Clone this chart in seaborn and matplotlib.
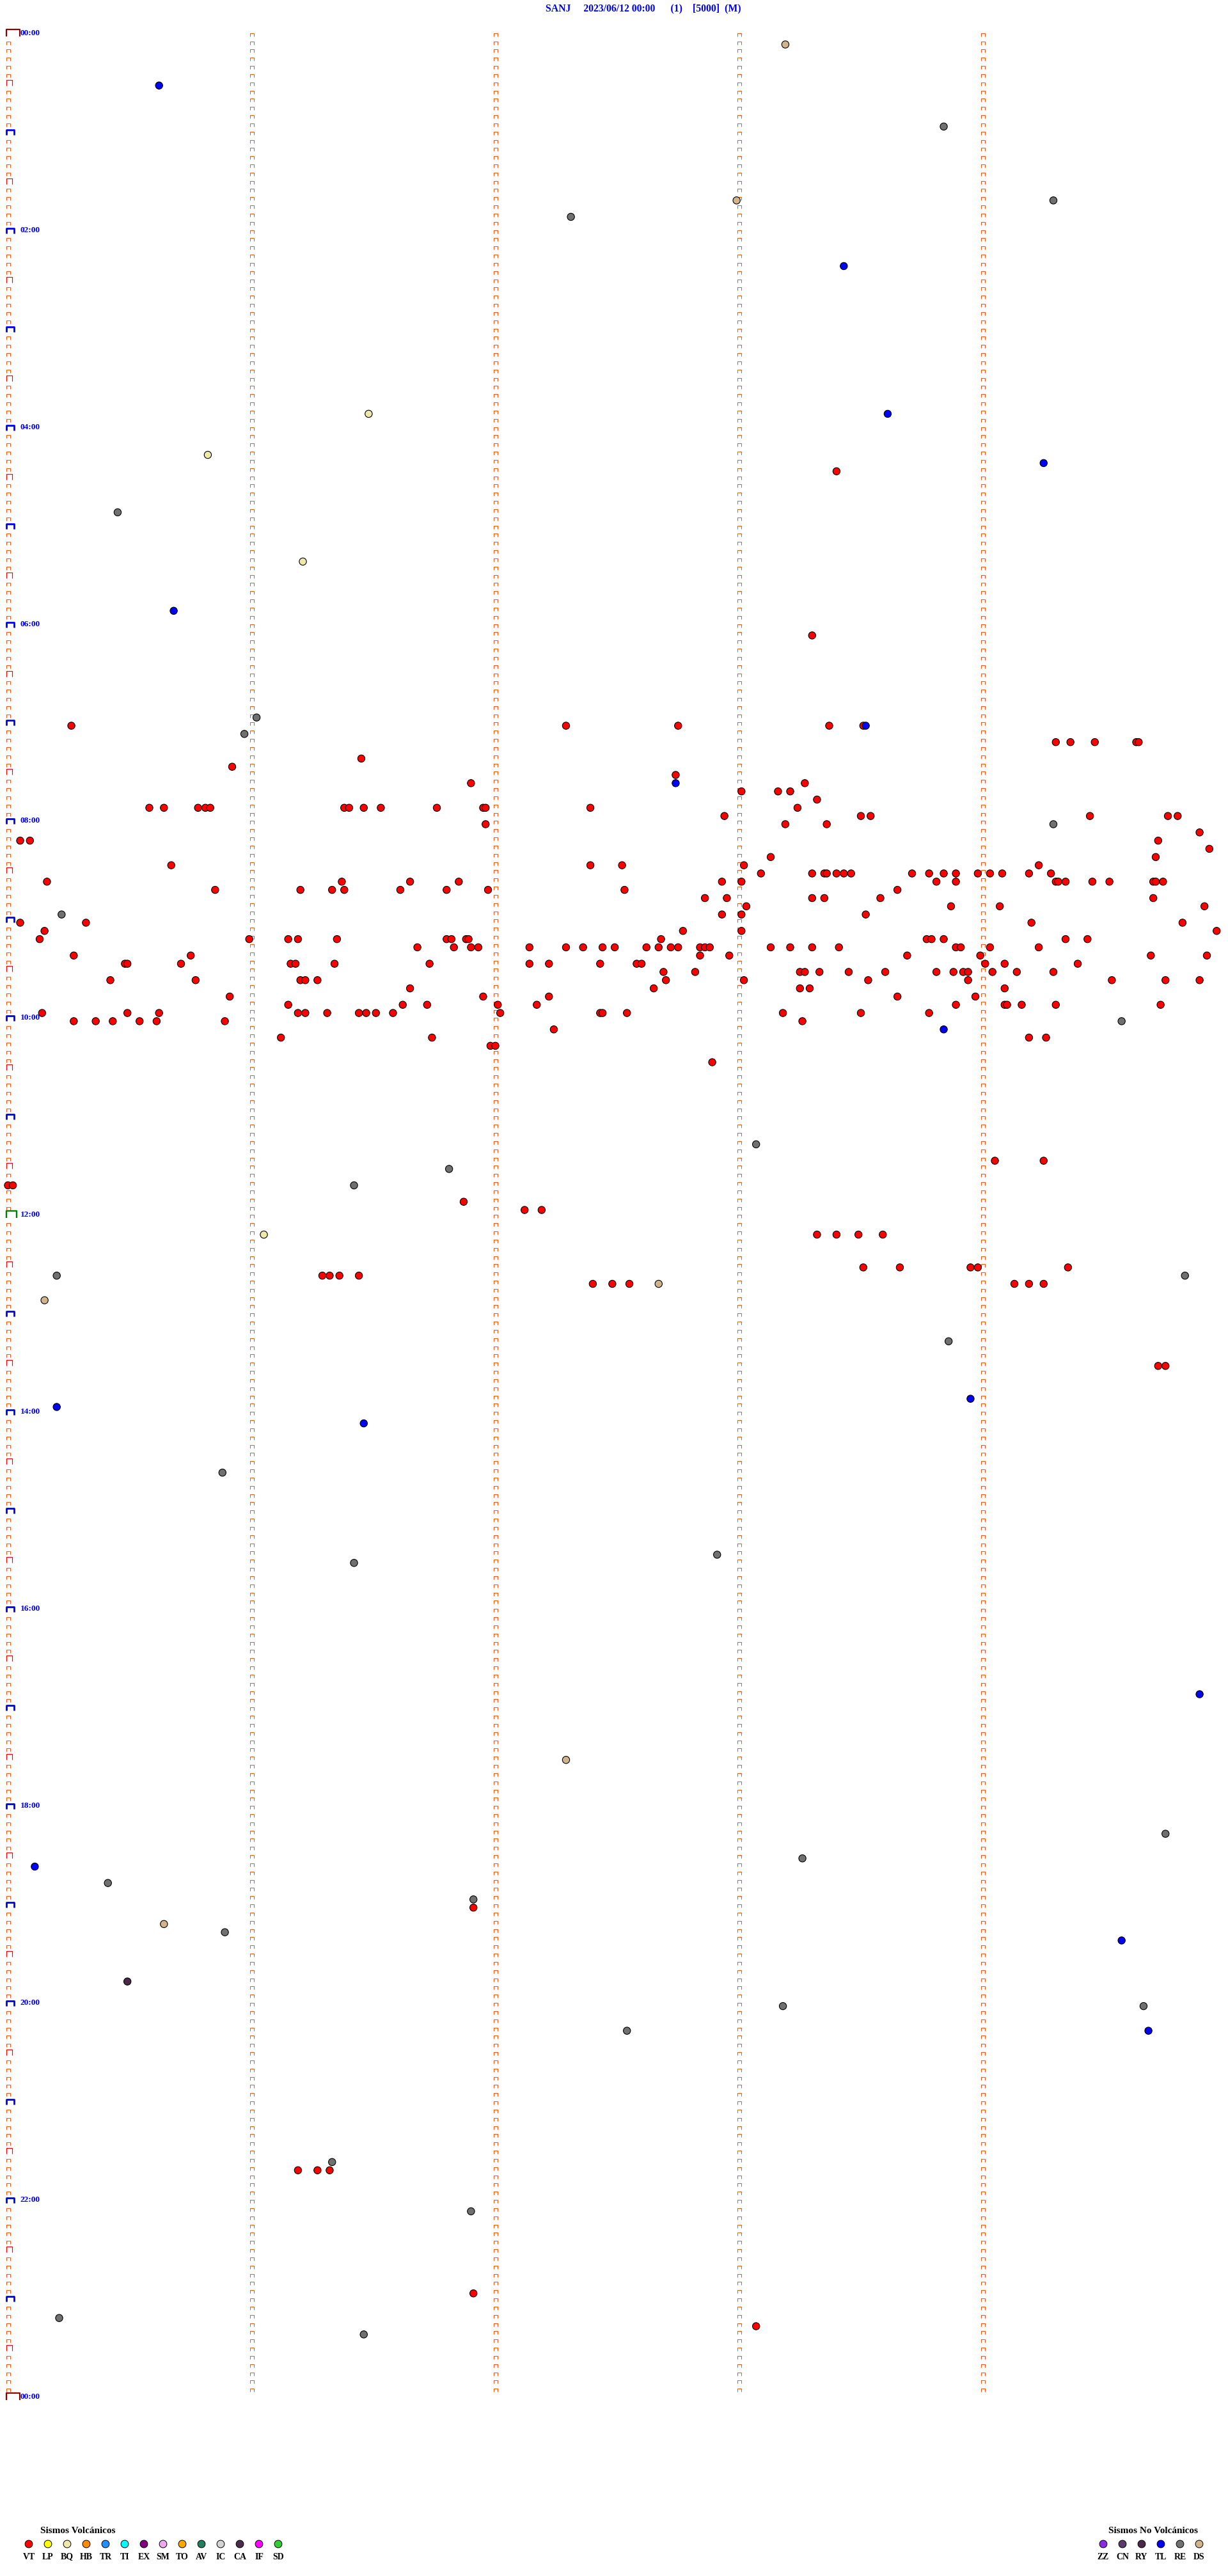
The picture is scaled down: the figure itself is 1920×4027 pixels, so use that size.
import numpy as np
import pandas as pd
import seaborn as sns
import matplotlib.pyplot as plt
from matplotlib.path import Path

# --- header -----------------------------------------------------------------
TITLE = "SANJ     2023/06/12 00:00      (1)    [5000]  (M)"

# helicorder layout: 288 rows of 5 minutes, each row 5 one-minute columns
ROW_MINUTES = 5
N_ROWS = 288
HOUR_LABELS = ["00:00", "02:00", "04:00", "06:00", "08:00", "10:00", "12:00",
               "14:00", "16:00", "18:00", "20:00", "22:00", "00:00"]

# --- legend categories --------------------------------------------------------
VOLC_CODES = ["VT", "LP", "BQ", "HB", "TR", "TI", "EX", "SM", "TO", "AV", "IC", "CA", "IF", "SD"]
VOLC_COLORS = ["#FF0000", "#FFFF00", "#EEE8AA", "#FF8C00", "#1E90FF", "#00FFFF", "#800080",
               "#EEA8EE", "#FFA500", "#1E7F5F", "#D3D3D3", "#4B2D4B", "#FF00FF", "#32CD32"]
NONVOLC_CODES = ["ZZ", "CN", "RY", "TL", "RE", "DS"]
NONVOLC_COLORS = ["#8A2BE2", "#5A3A6A", "#4A2848", "#0000FF", "#707070", "#D2B48C"]

# --- events (minutes after 00:00) ---------------------------------------------
VT_MIN = [
    268.40, 368.30,
    420.26, 422.29, 422.75, 423.37, 423.51,
    434.30, 434.36, 434.46, 434.63, 434.64,
    441.45, 445.92, 452.74, 456.90, 458.27,
    463.01, 463.16, 463.21, 468.32,
    470.58, 470.64, 470.78, 470.81, 470.83, 471.38, 471.40, 471.46, 471.53, 471.76,
    471.95, 471.96, 472.39, 473.24,
    477.94, 478.50, 478.54, 479.44, 479.76, 479.80,
    481.96, 483.19, 483.36, 489.89,
    490.05, 490.09, 494.72, 499.93, 503.13, 504.71,
    505.67, 507.39, 507.52, 508.02, 509.23,
    513.09, 513.30, 513.35, 513.36, 513.40, 513.43, 513.46, 513.71, 513.78, 513.84,
    513.89, 513.98, 514.03, 514.08, 514.19, 514.28,
    515.16, 516.37, 516.65, 516.85, 517.93, 518.01, 518.81, 518.89, 519.30, 519.31,
    519.34, 519.45, 519.52, 519.70, 519.71, 519.74,
    520.85, 521.20, 521.33, 521.38, 521.61, 521.80, 521.97, 522.53, 523.65,
    527.86, 527.95, 528.30, 528.35, 528.58, 529.70,
    533.03, 533.87, 534.07, 534.91,
    537.93, 538.01, 538.52,
    540.05, 540.32, 544.20, 544.82,
    545.15, 547.77, 548.01, 549.96,
    550.13, 550.99, 551.15, 551.19, 551.35, 551.80, 551.82, 551.88, 551.89, 552.68,
    553.77, 553.79, 553.84, 554.34, 554.43,
    556.68, 556.83, 556.90, 556.93, 557.14, 557.29, 557.36, 557.44, 557.49, 557.62,
    557.67, 557.72, 557.75, 557.84, 557.86, 557.88, 558.13, 558.21, 558.30, 558.41,
    558.89, 558.91, 559.03, 559.23,
    560.27, 560.75, 562.84, 562.96, 563.69, 563.99, 564.69, 564.92,
    565.48, 565.49, 565.71, 566.16, 566.18, 566.34, 566.73, 567.14, 567.22, 567.43,
    567.58, 567.60, 569.01, 569.09, 569.39,
    572.69, 572.82, 573.25, 573.27, 573.33, 573.45, 573.60, 573.81, 573.88, 573.92,
    573.94, 574.04, 574.14, 574.29,
    575.42, 575.77, 576.20, 576.22, 576.27, 577.70, 578.02, 578.53, 578.94, 579.53,
    579.75, 579.89,
    581.65, 582.65, 583.25, 583.29, 584.09,
    585.91, 586.95, 587.22, 588.65, 588.97,
    591.15, 591.62, 591.72, 592.01, 592.17, 593.89, 594.09, 594.10, 594.16, 594.30, 594.73,
    595.14, 595.49, 595.62, 596.19, 596.22, 596.31, 596.44, 596.47, 596.51, 596.58,
    597.02, 597.43, 597.44, 597.54, 598.18, 598.50, 598.78,
    600.27, 600.36, 600.43, 600.54, 600.61, 600.89, 603.26,
    607.24, 611.12, 611.74, 614.19, 614.26, 616.98, 617.00,
    627.89, 689.05, 689.25, 700.00, 700.02, 711.87, 717.12, 717.19,
    733.32, 733.40, 733.49, 733.59,
    753.51, 753.66, 753.95, 753.98, 754.35,
    756.29, 756.32, 756.36, 756.44,
    762.40, 762.48, 762.55, 764.13, 764.19, 764.25,
    814.72, 814.75, 1141.91, 1301.19, 1301.27, 1301.32, 1376.91, 1398.07,
]
TL_MIN = [30.62, 143.43, 233.61, 264.25, 350.68, 423.52, 457.74, 608.84, 833.95,
          835.20, 846.46, 1014.89, 1115.11, 1164.57, 1219.68]
RE_MIN = [58.84, 104.29, 112.31, 290.45, 416.02, 425.97, 484.29, 535.22, 604.57,
          678.07, 691.81, 701.42, 755.20, 759.83, 798.86, 875.88, 927.91, 931.42,
          1099.75, 1113.26, 1125.41, 1136.91, 1155.89, 1203.18, 1204.66, 1217.54,
          1296.33, 1326.90, 1390.21, 1401.46]
DS_MIN = [8.19, 102.99, 762.67, 770.15, 1052.29, 1150.64]
BQ_MIN = [231.48, 255.82, 321.21, 731.05]
RY_MIN = [1185.49]

FIG_W, FIG_H = 1920, 4027
X0, X1 = 12.5, 1917.5      # pixel span of the 5 minute columns
Y0, Y1 = 56.7, 3752.0      # pixel baseline of 00:00 and 24:00
SERIF = ["Liberation Serif", "DejaVu Serif"]
TICK_ORANGE = "#FF5511"


def cap(w, h, left=None):
    x0 = -w / 2 if left is None else left
    verts = [(x0, 0), (x0, h), (x0 + w, h), (x0 + w, 0)]
    path = Path(verts, [Path.MOVETO, Path.LINETO, Path.LINETO, Path.LINETO])
    size_pt = 2 * max(abs(x0), abs(x0 + w), h) * 0.72
    return path, size_pt


def draw_caps(ax, xs, ys, w, h, color, lw_px, left=None):
    path, ms = cap(w, h, left)
    ax.plot(xs, ys, ls="none", marker=path, ms=ms, mfc="none", mec=color,
            mew=lw_px * 0.72, clip_on=False, zorder=2)


def main():
    sns.set_style("white")
    plt.rcParams["font.family"] = SERIF

    fig = plt.figure(figsize=(FIG_W / 100, FIG_H / 100), dpi=100)
    fig.set_facecolor("white")
    ax = fig.add_axes([X0 / FIG_W, 1 - Y1 / FIG_H, (X1 - X0) / FIG_W, (Y1 - Y0) / FIG_H])
    ax.set_xlim(0, ROW_MINUTES)
    ax.set_ylim(N_ROWS, 0)
    ax.axis("off")

    # row tick caps on the left edge and on the minute separators
    rows = np.arange(N_ROWS + 1)
    plain = rows[(rows % 6 != 0)]
    half = rows[(rows % 12 == 6)]
    hour = rows[(rows % 12 == 0) & (rows != 0) & (rows != 144) & (rows != N_ROWS)]
    draw_caps(ax, np.zeros(len(plain)), plain, 6, 5, TICK_ORANGE, 1.0)
    draw_caps(ax, np.zeros(len(half)), half, 9, 9, "#FF0000", 1.2, left=-3)
    draw_caps(ax, np.zeros(len(hour)), hour, 12, 8, "#0000FF", 2.8, left=-3.5)
    draw_caps(ax, [0], [144], 17, 11, "#008000", 2.4, left=-3.5)
    draw_caps(ax, [0, 0], [0, N_ROWS], 21, 11, "#8B0000", 2.2, left=-3.5)
    sep_rows = np.arange(N_ROWS)
    for m in range(1, ROW_MINUTES):
        draw_caps(ax, np.full(len(sep_rows), m), sep_rows, 6, 5, TICK_ORANGE, 1.0)

    for i, lab in enumerate(HOUR_LABELS):
        ax.annotate(lab, xy=(0, i * 24), xytext=(14, 3.6), textcoords="offset points",
                    ha="left", va="center", fontsize=9.6, fontweight="bold",
                    color="#0000FF", annotation_clip=False)

    # events
    palette = dict(zip(VOLC_CODES + NONVOLC_CODES, VOLC_COLORS + NONVOLC_COLORS))
    frames = []
    for code, times in [("VT", VT_MIN), ("TL", TL_MIN), ("RE", RE_MIN),
                        ("DS", DS_MIN), ("BQ", BQ_MIN), ("RY", RY_MIN)]:
        frames.append(pd.DataFrame({"t": times, "type": code}))
    ev = pd.concat(frames, ignore_index=True)
    ev["row"] = np.floor(ev["t"] / ROW_MINUTES + 1e-9)
    ev["minute"] = ev["t"] - ev["row"] * ROW_MINUTES
    sns.scatterplot(data=ev, x="minute", y="row", hue="type", palette=palette,
                    s=66, edgecolor="black", linewidth=0.8, legend=False,
                    clip_on=False, zorder=3, ax=ax)
    ax.set_xlim(0, ROW_MINUTES)
    ax.set_ylim(N_ROWS, 0)
    ax.axis("off")

    fig.text(853 / FIG_W, 1 - 13 / FIG_H, TITLE, ha="left", va="center",
             fontsize=11.3, fontweight="bold", color="#0000FF")

    # legends
    def legend_block(codes, colors, x_first, title, title_x):
        n = len(codes)
        left = x_first - 15
        lax = fig.add_axes([left / FIG_W, 1 - 3987 / FIG_H, 30 * n / FIG_W, 20 / FIG_H])
        df = pd.DataFrame({"i": np.arange(n), "y": np.zeros(n), "code": codes})
        sns.scatterplot(data=df, x="i", y="y", hue="code",
                        palette=dict(zip(codes, colors)), s=72,
                        edgecolor="black", linewidth=0.7, legend=False,
                        clip_on=False, ax=lax)
        lax.set_xlim(-0.5, n - 0.5)
        lax.set_ylim(-1, 1)
        lax.axis("off")
        for i, c in enumerate(codes):
            lax.annotate(c, xy=(i, 0), xytext=(0, -14.4), textcoords="offset points",
                         ha="center", va="center", fontsize=10, fontweight="bold",
                         color="black", annotation_clip=False)
        fig.text(title_x / FIG_W, 1 - 3957 / FIG_H, title, ha="left", va="center",
                 fontsize=11, fontweight="bold", color="black")

    legend_block(VOLC_CODES, VOLC_COLORS, 45, "Sismos Volcánicos", 63)
    legend_block(NONVOLC_CODES, NONVOLC_COLORS, 1725, "Sismos No Volcánicos", 1733)

    fig.savefig("out.png", dpi=100, facecolor="white")


if __name__ == "__main__":
    main()
